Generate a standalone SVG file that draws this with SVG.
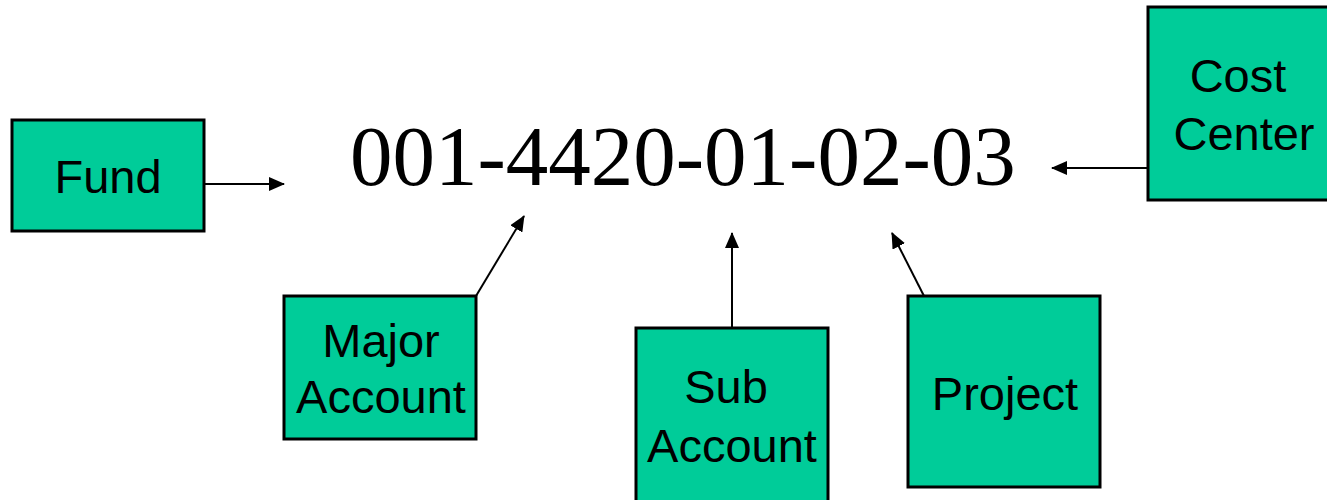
<svg xmlns="http://www.w3.org/2000/svg" width="1327" height="500" viewBox="0 0 1327 500">
<style>
.box{fill:#00cc99;stroke:#000;stroke-width:3}
.lbl{font-family:"Liberation Sans",Arial,sans-serif;font-size:47px;fill:#000;text-anchor:middle}
.code{font-family:"Liberation Serif","Times New Roman",serif;font-size:85px;fill:#000}
.conn{stroke:#000;stroke-width:2;fill:none;marker-end:url(#ah)}
</style>
<defs>
<marker id="ah" markerWidth="16" markerHeight="14" refX="15" refY="7" orient="auto" markerUnits="userSpaceOnUse">
<path d="M0,0 L16,7 L0,14 Z" fill="#000"/>
</marker>
</defs>
<rect width="1327" height="500" fill="#fff"/>
<text class="code" x="350" y="185">001-4420-01-02-03</text>
<g id="fund"><rect class="box" x="12" y="120" width="192" height="111"/><text class="lbl" x="108" y="193">Fund</text></g>
<g id="major"><rect class="box" x="284" y="296" width="192" height="143"/><text class="lbl" x="381" y="357">Major</text><text class="lbl" x="381" y="413">Account</text></g>
<g id="sub"><rect class="box" x="636" y="328" width="192" height="190"/><text class="lbl" x="726" y="403">Sub</text><text class="lbl" x="732" y="462">Account</text></g>
<g id="project"><rect class="box" x="908" y="296" width="192" height="191"/><text class="lbl" x="1005" y="410">Project</text></g>
<g id="cost"><rect class="box" x="1148" y="7" width="192" height="193"/><text class="lbl" x="1238" y="92">Cost</text><text class="lbl" x="1244" y="150">Center</text></g>
<g id="connectors">
<line class="conn" x1="204" y1="184" x2="284" y2="184"/>
<line class="conn" x1="476" y1="296" x2="524" y2="216"/>
<line class="conn" x1="732" y1="328" x2="732" y2="233"/>
<line class="conn" x1="924" y1="296" x2="892" y2="233"/>
<line class="conn" x1="1148" y1="168" x2="1052" y2="168"/>
</g>
</svg>
